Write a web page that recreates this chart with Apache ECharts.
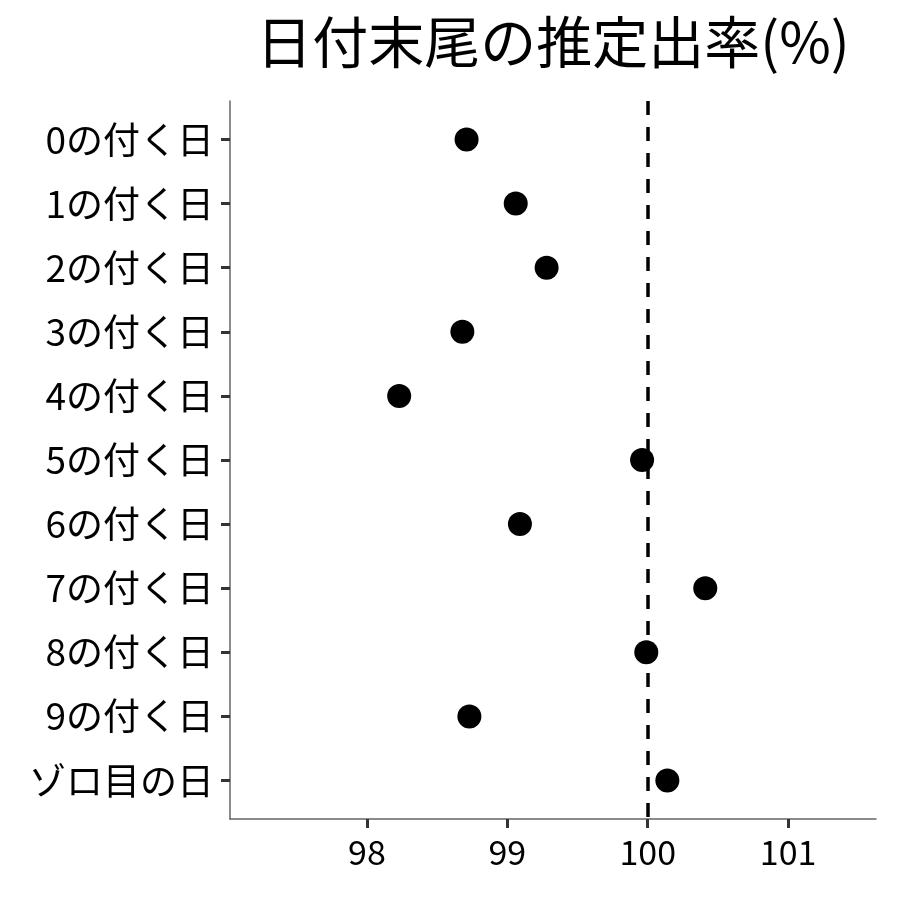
<!DOCTYPE html>
<html>
<head>
<meta charset="utf-8">
<script src="https://cdn.jsdelivr.net/npm/echarts@6/dist/echarts.min.js"></script>
<style>
  html, body { margin: 0; padding: 0; background: #fff; }
  #chart { width: 900px; height: 900px; }
</style>
</head>
<body>
<div id="chart"></div>
<script>
  // カテゴリ（上から順）
  var categories = ['0の付く日', '1の付く日', '2の付く日', '3の付く日', '4の付く日',
    '5の付く日', '6の付く日', '7の付く日', '8の付く日', '9の付く日', 'ゾロ目の日'];
  // 推定出率(%)
  var rates = [98.71, 99.06, 99.28, 98.68, 98.23, 99.96, 99.09, 100.41, 99.99, 98.73, 100.14];
  var xTicks = [98, 99, 100, 101];
  var refLine = 100;

  var chart = echarts.init(document.getElementById('chart'));
  var font = '"Noto Sans CJK JP", "Noto Sans", sans-serif';
  var idx = categories.map(function (c, i) { return i; });

  var option = {
    backgroundColor: '#fff',
    animation: false,
    title: {
      text: '日付末尾の推定出率(%)',
      left: 548,
      top: 9,
      textAlign: 'center',
      textStyle: { fontFamily: font, fontSize: 56, fontWeight: 'normal', color: '#000' }
    },
    grid: { left: 230, right: 24, top: 101, bottom: 81 },
    xAxis: [{
      type: 'value',
      min: 97.025,
      max: 101.626,
      splitLine: { show: false },
      axisLine: { show: true, onZero: false, lineStyle: { color: '#666', width: 1.5 } },
      axisTick: { show: false },
      axisLabel: {
        customValues: xTicks,
        margin: 16,
        fontFamily: font, fontSize: 34, color: '#000'
      }
    }, {
      // 目盛り線だけを描く補助軸
      type: 'value',
      position: 'bottom',
      min: 97.025,
      max: 101.626,
      splitLine: { show: false },
      axisLine: { show: false, onZero: false },
      axisTick: { show: true, customValues: xTicks, length: 9, lineStyle: { color: '#333', width: 3 } },
      axisLabel: { show: false }
    }],
    yAxis: {
      type: 'value',
      inverse: true,
      min: -0.6,
      max: 10.6,
      splitLine: { show: false },
      axisLine: { show: true, onZero: false, lineStyle: { color: '#666', width: 1.5 } },
      axisTick: { show: true, customValues: idx, length: 9, lineStyle: { color: '#333', width: 3 } },
      axisLabel: {
        customValues: idx,
        margin: 16,
        fontFamily: font, fontSize: 37, color: '#000',
        formatter: function (v) { return categories[Math.round(v)]; }
      }
    },
    series: [{
      type: 'scatter',
      symbolSize: 24,
      itemStyle: { color: '#000', opacity: 1 },
      data: rates.map(function (v, i) { return [v, i]; }),
      z: 3,
      markLine: {
        silent: true,
        symbol: 'none',
        label: { show: false },
        lineStyle: { color: '#000', type: [14, 12], width: 3.5, opacity: 1 },
        data: [{ xAxis: refLine }],
        z: 2
      }
    }]
  };
  chart.setOption(option);
</script>
</body>
</html>
